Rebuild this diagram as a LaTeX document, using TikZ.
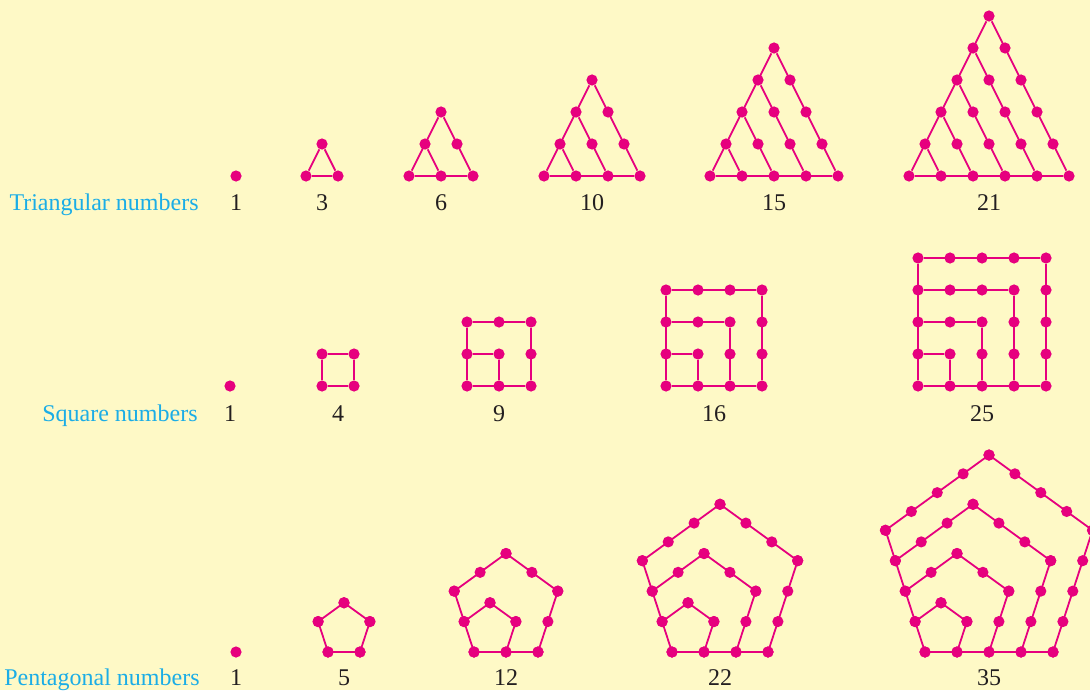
\documentclass[tikz,border=0pt]{standalone}
\usepackage{fontspec}
\setmainfont{Liberation Serif}
\usepackage{xcolor}
\usetikzlibrary{positioning}
\definecolor{bgyellow}{HTML}{FEF9C6}
\definecolor{dotpink}{HTML}{E6007E}
\definecolor{rowcyan}{HTML}{1BADE6}
\definecolor{numgray}{HTML}{231F20}

\begin{document}
\begin{tikzpicture}[
  x=0.5pt, y=-0.5pt,
  dot/.style={circle, fill=dotpink, inner sep=0pt, minimum size=5.6pt},
  link/.style={draw=dotpink, line width=0.9pt},
  rowlabel/.style={anchor=base east, inner sep=0pt, text=rowcyan, font=\fontsize{12}{14}\selectfont},
  count/.style={anchor=base, text=numgray, font=\fontsize{12}{14}\selectfont}
]
  % Background
  \fill[bgyellow] (0,0) rectangle (1090,690);
  \useasboundingbox (0,0) rectangle (1090,690);

  % Row labels
  \node[rowlabel] (tri-label) at (199,210) {Triangular numbers};
  \node[rowlabel] (sq-label)  at (198,421) {Square numbers};
  \node[rowlabel] (pen-label) at (200,685) {Pentagonal numbers};

  % Single dots
  \node[dot] (tri1) at (236,176) {};
  \node[dot] (sq1)  at (230,386) {};
  \node[dot] (pen1) at (236,652) {};

  % Triangular numbers: apex x / rows
  \foreach \ax/\n in {322/2, 441/3, 592/4, 774/5, 989/6} {
    \pgfmathsetmacro\ay{176-32*(\n-1)}
    \pgfmathtruncatemacro\m{\n-1}
    \foreach \i in {0,...,\m}
      \foreach \j in {0,...,\i}
        \node[dot] (tri\n-\i-\j) at ({\ax-16*\i+32*\j},{\ay+32*\i}) {};
    \draw[link] (tri\n-0-0) -- (tri\n-\m-0) -- (tri\n-\m-\m);
    \pgfmathtruncatemacro\mm{\n-2}
    \foreach \i in {0,...,\mm} {
      \pgfmathtruncatemacro\k{\m-\i}
      \draw[link] (tri\n-\i-0) -- (tri\n-\m-\k);
    }
  }

  % Square numbers: left x / side
  \foreach \bx/\n in {322/2, 467/3, 666/4, 918/5} {
    \pgfmathtruncatemacro\m{\n-1}
    \foreach \c in {0,...,\m}
      \foreach \r in {0,...,\m}
        \node[dot] (sq\n-\c-\r) at ({\bx+32*\c},{386-32*(\m-\r)}) {};
    \draw[link] (sq\n-0-0) -- (sq\n-\m-0) -- (sq\n-\m-\m) -- (sq\n-0-\m) -- (sq\n-0-0);
    \ifnum\n>2
      \pgfmathtruncatemacro\mm{\n-2}
      \foreach \r in {1,...,\mm} {
        \pgfmathtruncatemacro\k{\m-\r}
        \draw[link] (sq\n-0-\r) -- (sq\n-\k-\r) -- (sq\n-\k-\m);
      }
    \fi
  }

  % Pentagonal numbers: bottom-left x / size
  \foreach \bx/\n in {328/2, 474/3, 672/4, 925/5} {
    \begin{scope}[shift={(\bx,652)}, x=16pt, y=16pt]
      \pgfmathtruncatemacro\m{\n-1}
      \foreach \k in {1,...,\m} {
        \coordinate (pen\n-\k-v0) at (0,0);
        \coordinate (pen\n-\k-v1) at (\k,0);
        \coordinate (pen\n-\k-v2) at ({1.309017*\k},{0.951057*\k});
        \coordinate (pen\n-\k-v3) at ({0.5*\k},{1.538842*\k});
        \coordinate (pen\n-\k-v4) at ({-0.309017*\k},{0.951057*\k});
        \ifnum\k=\m
          \draw[link] (pen\n-\k-v0) -- (pen\n-\k-v1) -- (pen\n-\k-v2)
            -- (pen\n-\k-v3) -- (pen\n-\k-v4) -- cycle;
          \foreach \s in {0,4}
            \foreach \t in {0,...,\k}
              \node[dot] (pen\n-\k-\s-\t) at ([shift={(72*\s:\t)}]pen\n-\k-v\s) {};
        \else
          \draw[link] (pen\n-\k-v1) -- (pen\n-\k-v2) -- (pen\n-\k-v3) -- (pen\n-\k-v4);
        \fi
        \foreach \s in {1,2,3}
          \foreach \t in {0,...,\k}
            \node[dot] (pen\n-\k-\s-\t) at ([shift={(72*\s:\t)}]pen\n-\k-v\s) {};
      }
    \end{scope}
  }

  % Counts
  \foreach \x/\v [count=\i] in {236/1, 322/3, 441/6, 592/10, 774/15, 989/21}
    \node[count] (tri-count\i) at (\x,210) {\v};
  \foreach \x/\v [count=\i] in {230/1, 338/4, 499/9, 714/16, 982/25}
    \node[count] (sq-count\i) at (\x,421) {\v};
  \foreach \x/\v [count=\i] in {236/1, 344/5, 506/12, 720/22, 989/35}
    \node[count] (pen-count\i) at (\x,685) {\v};
\end{tikzpicture}
\end{document}
